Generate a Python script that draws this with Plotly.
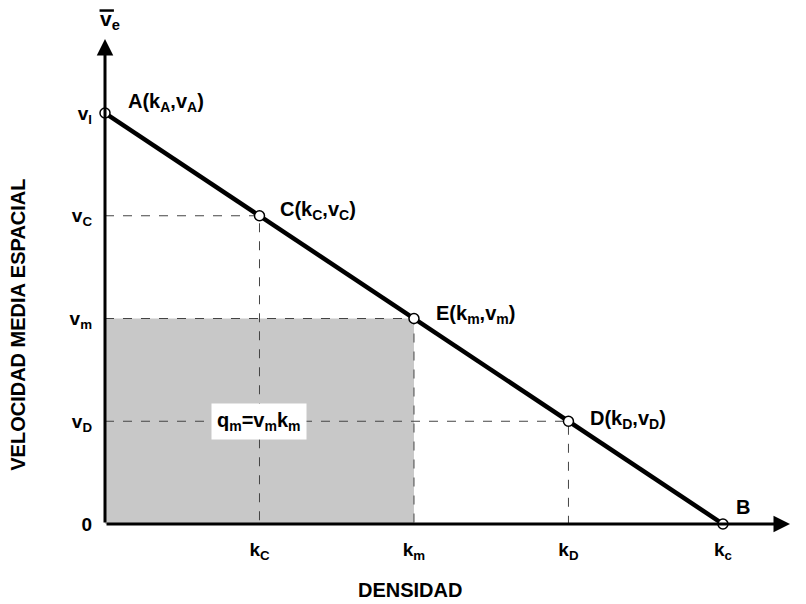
import plotly.graph_objects as go

# points on the speed-density line (A, C, E, D, B)
point_names = ["A", "C", "E", "D", "B"]
k_vals = [0, 1, 2, 3, 4]
v_vals = [4, 3, 2, 1, 0]
point_labels = [
    "A(k<sub>A</sub>,v<sub>A</sub>)",
    "C(k<sub>C</sub>,v<sub>C</sub>)",
    "E(k<sub>m</sub>,v<sub>m</sub>)",
    "D(k<sub>D</sub>,v<sub>D</sub>)",
    "B",
]

x_tickvals = [1, 2, 3, 4]
x_ticktext = ["k<sub>C</sub>", "k<sub>m</sub>", "k<sub>D</sub>", "k<sub>c</sub>"]
y_tickvals = [0, 1, 2, 3, 4]
y_ticktext = ["0", "v<sub>D</sub>", "v<sub>m</sub>", "v<sub>C</sub>", "v<sub>l</sub>"]

# point of max flow (E)
k_m, v_m = k_vals[2], v_vals[2]

FONT = "Liberation Sans, Arial, sans-serif"
X_MAX = 4.434
Y_MAX = 4.73

fig = go.Figure()

# shaded rectangle q_m = v_m * k_m
fig.add_trace(go.Scatter(
    x=[0, k_m, k_m, 0, 0], y=[0, 0, v_m, v_m, 0],
    fill="toself", fillcolor="#c8c8c8", mode="none", hoverinfo="skip",
))

# dashed projection lines for C, E, D
for i in (1, 2, 3):
    fig.add_trace(go.Scatter(
        x=[0, k_vals[i], k_vals[i]], y=[v_vals[i], v_vals[i], 0],
        mode="lines", line=dict(color="#444444", width=1, dash="dash"),
        hoverinfo="skip",
    ))

# main line
fig.add_trace(go.Scatter(
    x=k_vals, y=v_vals, mode="lines",
    line=dict(color="black", width=4.5),
))

# open circles
fig.add_trace(go.Scatter(
    x=k_vals, y=v_vals, mode="markers",
    marker=dict(symbol="circle", size=10, color="white",
                line=dict(color="black", width=1.5)),
    cliponaxis=False,
))

# point labels
offsets = [(21, 11), (19, 5), (20, 4), (20, 2), (11, 17)]
for k, v, lab, (dx, dy) in zip(k_vals, v_vals, point_labels, offsets):
    fig.add_annotation(x=k, y=v, text=lab, showarrow=False,
                       xanchor="left", yanchor="middle", xshift=dx, yshift=dy,
                       font=dict(size=20))

# flow label
fig.add_annotation(x=k_vals[1], y=v_vals[3],
                   text="q<sub>m</sub>=v<sub>m</sub>k<sub>m</sub>",
                   showarrow=False, bgcolor="white", borderpad=5,
                   font=dict(size=20))

# axes with arrows
fig.add_annotation(x=X_MAX, y=0, ax=0, ay=0, xref="x", yref="y",
                   axref="x", ayref="y", text="", showarrow=True,
                   arrowhead=2, arrowsize=1.1, arrowwidth=3, arrowcolor="black")
fig.add_annotation(x=0, y=Y_MAX - 0.01, ax=0, ay=0, xref="x", yref="y",
                   axref="x", ayref="y", text="", showarrow=True,
                   arrowhead=2, arrowsize=1.1, arrowwidth=3, arrowcolor="black")

# axis symbols
fig.add_annotation(x=1.0, y=0, xref="paper", yref="paper", text="k",
                   showarrow=False, xanchor="left", yanchor="middle",
                   xshift=9, font=dict(size=21))
fig.add_annotation(x=0, y=1, xref="paper", yref="paper",
                   text="v<sub>e</sub>", showarrow=False,
                   xanchor="center", yanchor="bottom", xshift=5, yshift=3,
                   font=dict(size=21))
fig.add_shape(type="line", xref="paper", yref="paper",
              x0=-0.008, x1=0.013, y0=1.0565, y1=1.0565,
              line=dict(color="black", width=2.5))

# axis titles
fig.add_annotation(x=-0.127, y=0.41, xref="paper", yref="paper",
                   text="VELOCIDAD MEDIA ESPACIAL", textangle=-90,
                   xanchor="center", yanchor="middle",
                   showarrow=False, font=dict(size=20))
fig.add_annotation(x=0.445, y=-0.136, xref="paper", yref="paper",
                   text="DENSIDAD", xanchor="center", yanchor="middle",
                   showarrow=False, font=dict(size=20))

fig.update_xaxes(range=[0, X_MAX], tickvals=x_tickvals, ticktext=x_ticktext,
                 showgrid=False, zeroline=False, showline=False, ticks="",
                 ticklabelstandoff=12)
fig.update_yaxes(range=[0, Y_MAX], tickvals=y_tickvals, ticktext=y_ticktext,
                 showgrid=False, zeroline=False, showline=False, ticks="",
                 ticklabelstandoff=12)

# page body has an 8px margin, so the plot margins are offset to match
fig.update_layout(
    width=806, height=604,
    margin=dict(l=97, r=24, t=30, b=88),
    plot_bgcolor="white", paper_bgcolor="white",
    showlegend=False,
    font=dict(family=FONT, size=19, color="black", weight="bold"),
)

fig.write_html("out.html")
